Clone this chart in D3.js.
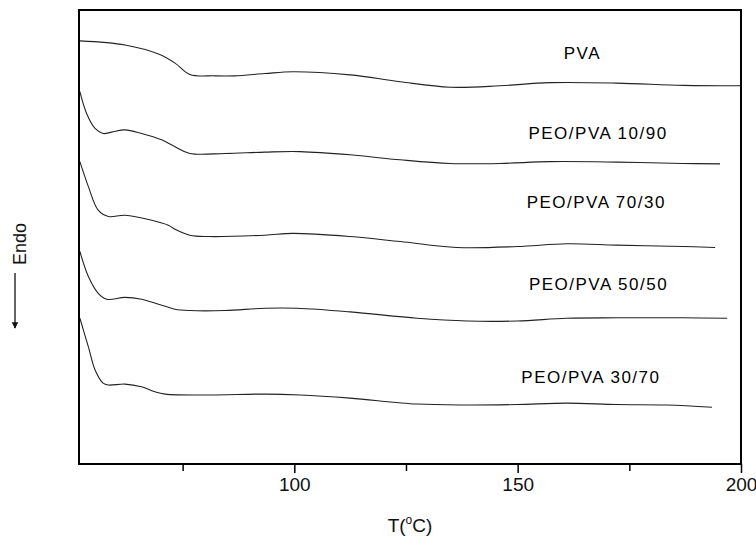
<!DOCTYPE html>
<html>
<head>
<meta charset="utf-8">
<script src="https://cdn.jsdelivr.net/npm/d3@7"></script>
<style>
  html, body { margin: 0; padding: 0; background: #fff; }
  svg { display: block; font-family: "Liberation Sans", Arial, sans-serif; }
</style>
</head>
<body>
<svg id="chart" width="756" height="539"></svg>
<script>
// ---- data (temperature in °C, heat flow in arbitrary offset units) ----
const seriesNames = ["PVA", "PEO/PVA 10/90", "PEO/PVA 70/30", "PEO/PVA 50/50", "PEO/PVA 30/70"];

const pvaT   = [52.0, 62.1, 69.6, 73.3, 76.6, 82.2, 86.7, 93.4, 99.7, 112.5, 123.7, 134.9, 146.0, 157.2, 172.2, 187.0, 199.8];
const pvaV   = [93.2, 92.3, 90.3, 88.3, 85.8, 85.5, 85.5, 86.0, 86.4, 85.7, 84.2, 83.0, 83.3, 84.0, 83.9, 83.4, 83.3];

const p1090T = [52.0, 53.5, 55.4, 57.2, 59.1, 62.1, 65.8, 70.3, 73.3, 76.6, 84.5, 93.4, 101.3, 112.5, 123.7, 134.9, 146.0, 157.2, 172.2, 187.0, 195.3];
const p1090V = [82.0, 77.2, 73.9, 72.8, 73.1, 73.6, 72.8, 71.4, 69.9, 68.4, 68.4, 68.7, 68.8, 68.1, 67.0, 66.2, 66.2, 66.6, 66.5, 66.2, 66.1];

const p7030T = [52.0, 53.9, 56.1, 58.4, 62.1, 68.1, 71.8, 73.3, 76.6, 80.7, 93.4, 99.7, 112.5, 123.7, 136.4, 149.9, 161.0, 172.2, 187.0, 194.2];
const p7030V = [66.6, 61.1, 55.9, 54.5, 54.8, 53.7, 52.6, 51.7, 50.4, 50.1, 50.4, 50.8, 50.1, 49.0, 47.7, 47.9, 48.5, 48.2, 47.9, 47.7];

const p5050T = [52.0, 53.9, 56.1, 58.0, 62.1, 65.8, 69.6, 73.3, 76.6, 84.5, 93.4, 100.6, 112.5, 127.5, 138.7, 149.9, 161.0, 172.2, 187.0, 196.9];
const p5050V = [46.8, 41.3, 37.6, 36.3, 36.7, 36.3, 35.2, 34.1, 33.8, 33.8, 34.3, 34.3, 33.5, 32.1, 31.5, 31.5, 32.1, 32.2, 32.2, 32.1];

const p3070T = [52.0, 53.9, 55.4, 57.2, 58.4, 62.1, 65.8, 68.8, 71.1, 80.7, 93.4, 101.3, 112.5, 127.5, 138.7, 149.9, 161.0, 172.2, 183.4, 193.5];
const p3070V = [32.1, 25.8, 20.7, 17.8, 17.4, 17.6, 17.0, 15.9, 15.4, 15.2, 15.4, 15.2, 14.5, 13.2, 13.0, 13.1, 13.4, 13.1, 13.0, 12.5];

// label anchors in data coordinates (T, heat flow)
const labelT = [164.5, 168.0, 167.6, 168.1, 166.4];
const labelV = [89.2, 71.6, 56.3, 38.3, 17.8];

const xMajorTicks = [100, 150, 200];
const xMinorTicks = [75, 125, 175];
const xDomain = [51.8, 200];
const yDomain = [0, 100];
const xTitle = "T(";
const yTitle = "Endo";

// ---- layout ----
const svg = d3.select("#chart");
const L = 79, R = 741, T = 10, B = 464;

const x = d3.scaleLinear().domain(xDomain).range([L, R]);
const y = d3.scaleLinear().domain(yDomain).range([B, T]);

const seriesT = [pvaT, p1090T, p7030T, p5050T, p3070T];
const seriesV = [pvaV, p1090V, p7030V, p5050V, p3070V];

const line = d3.line()
  .x(d => x(d[0]))
  .y(d => y(d[1]))
  .curve(d3.curveCatmullRom.alpha(0.5));

seriesNames.forEach((name, i) => {
  const pts = seriesT[i].map((t, k) => [t, seriesV[i][k]]);
  svg.append("path")
    .datum(pts)
    .attr("fill", "none")
    .attr("stroke", "#222")
    .attr("stroke-width", 1.1)
    .attr("d", line);
  svg.append("text")
    .attr("x", x(labelT[i]))
    .attr("y", y(labelV[i]))
    .attr("text-anchor", "middle")
    .attr("font-size", 17)
    .attr("letter-spacing", 1.5)
    .attr("fill", "#000")
    .text(name);
});

// frame
svg.append("rect")
  .attr("x", L).attr("y", T)
  .attr("width", R - L).attr("height", B - T)
  .attr("fill", "none")
  .attr("stroke", "#000")
  .attr("stroke-width", 2);

// x axis (major)
const xAxis = d3.axisBottom(x)
  .tickValues(xMajorTicks)
  .tickSize(9)
  .tickSizeOuter(0)
  .tickPadding(5)
  .tickFormat(d3.format("d"));
const gx = svg.append("g").attr("transform", `translate(0,${B})`).call(xAxis);
gx.select(".domain").remove();
gx.selectAll(".tick line").attr("stroke", "#000").attr("stroke-width", 1.5);
gx.selectAll(".tick text")
  .attr("font-size", 19)
  .attr("font-family", "Liberation Sans, Arial, sans-serif")
  .attr("fill", "#111");

// x axis (minor)
const xAxisMinor = d3.axisBottom(x)
  .tickValues(xMinorTicks)
  .tickSize(7)
  .tickSizeOuter(0)
  .tickFormat("");
const gxm = svg.append("g").attr("transform", `translate(0,${B})`).call(xAxisMinor);
gxm.select(".domain").remove();
gxm.selectAll(".tick line").attr("stroke", "#000").attr("stroke-width", 1.5);

// x title with superscript degree
const xt = svg.append("text")
  .attr("x", (L + R) / 2)
  .attr("y", 532)
  .attr("text-anchor", "middle")
  .attr("font-size", 19)
  .attr("fill", "#111");
xt.append("tspan").text(xTitle);
xt.append("tspan").attr("font-size", 12).attr("dy", -8).text("o");
xt.append("tspan").attr("dy", 8).text("C)");

// y title "Endo" with downward arrow
svg.append("text")
  .attr("transform", "translate(26,244) rotate(-90)")
  .attr("text-anchor", "middle")
  .attr("font-size", 18)
  .attr("fill", "#111")
  .text(yTitle);

svg.append("defs").append("marker")
  .attr("id", "arrow")
  .attr("viewBox", "0 0 10 10")
  .attr("refX", 9).attr("refY", 5)
  .attr("markerWidth", 5).attr("markerHeight", 6)
  .attr("orient", "auto")
  .append("path")
  .attr("d", "M0,0 L10,5 L0,10 z")
  .attr("fill", "#111");

svg.append("line")
  .attr("x1", 15).attr("x2", 15)
  .attr("y1", 273).attr("y2", 328)
  .attr("stroke", "#111")
  .attr("stroke-width", 1.3)
  .attr("marker-end", "url(#arrow)");
</script>
</body>
</html>
